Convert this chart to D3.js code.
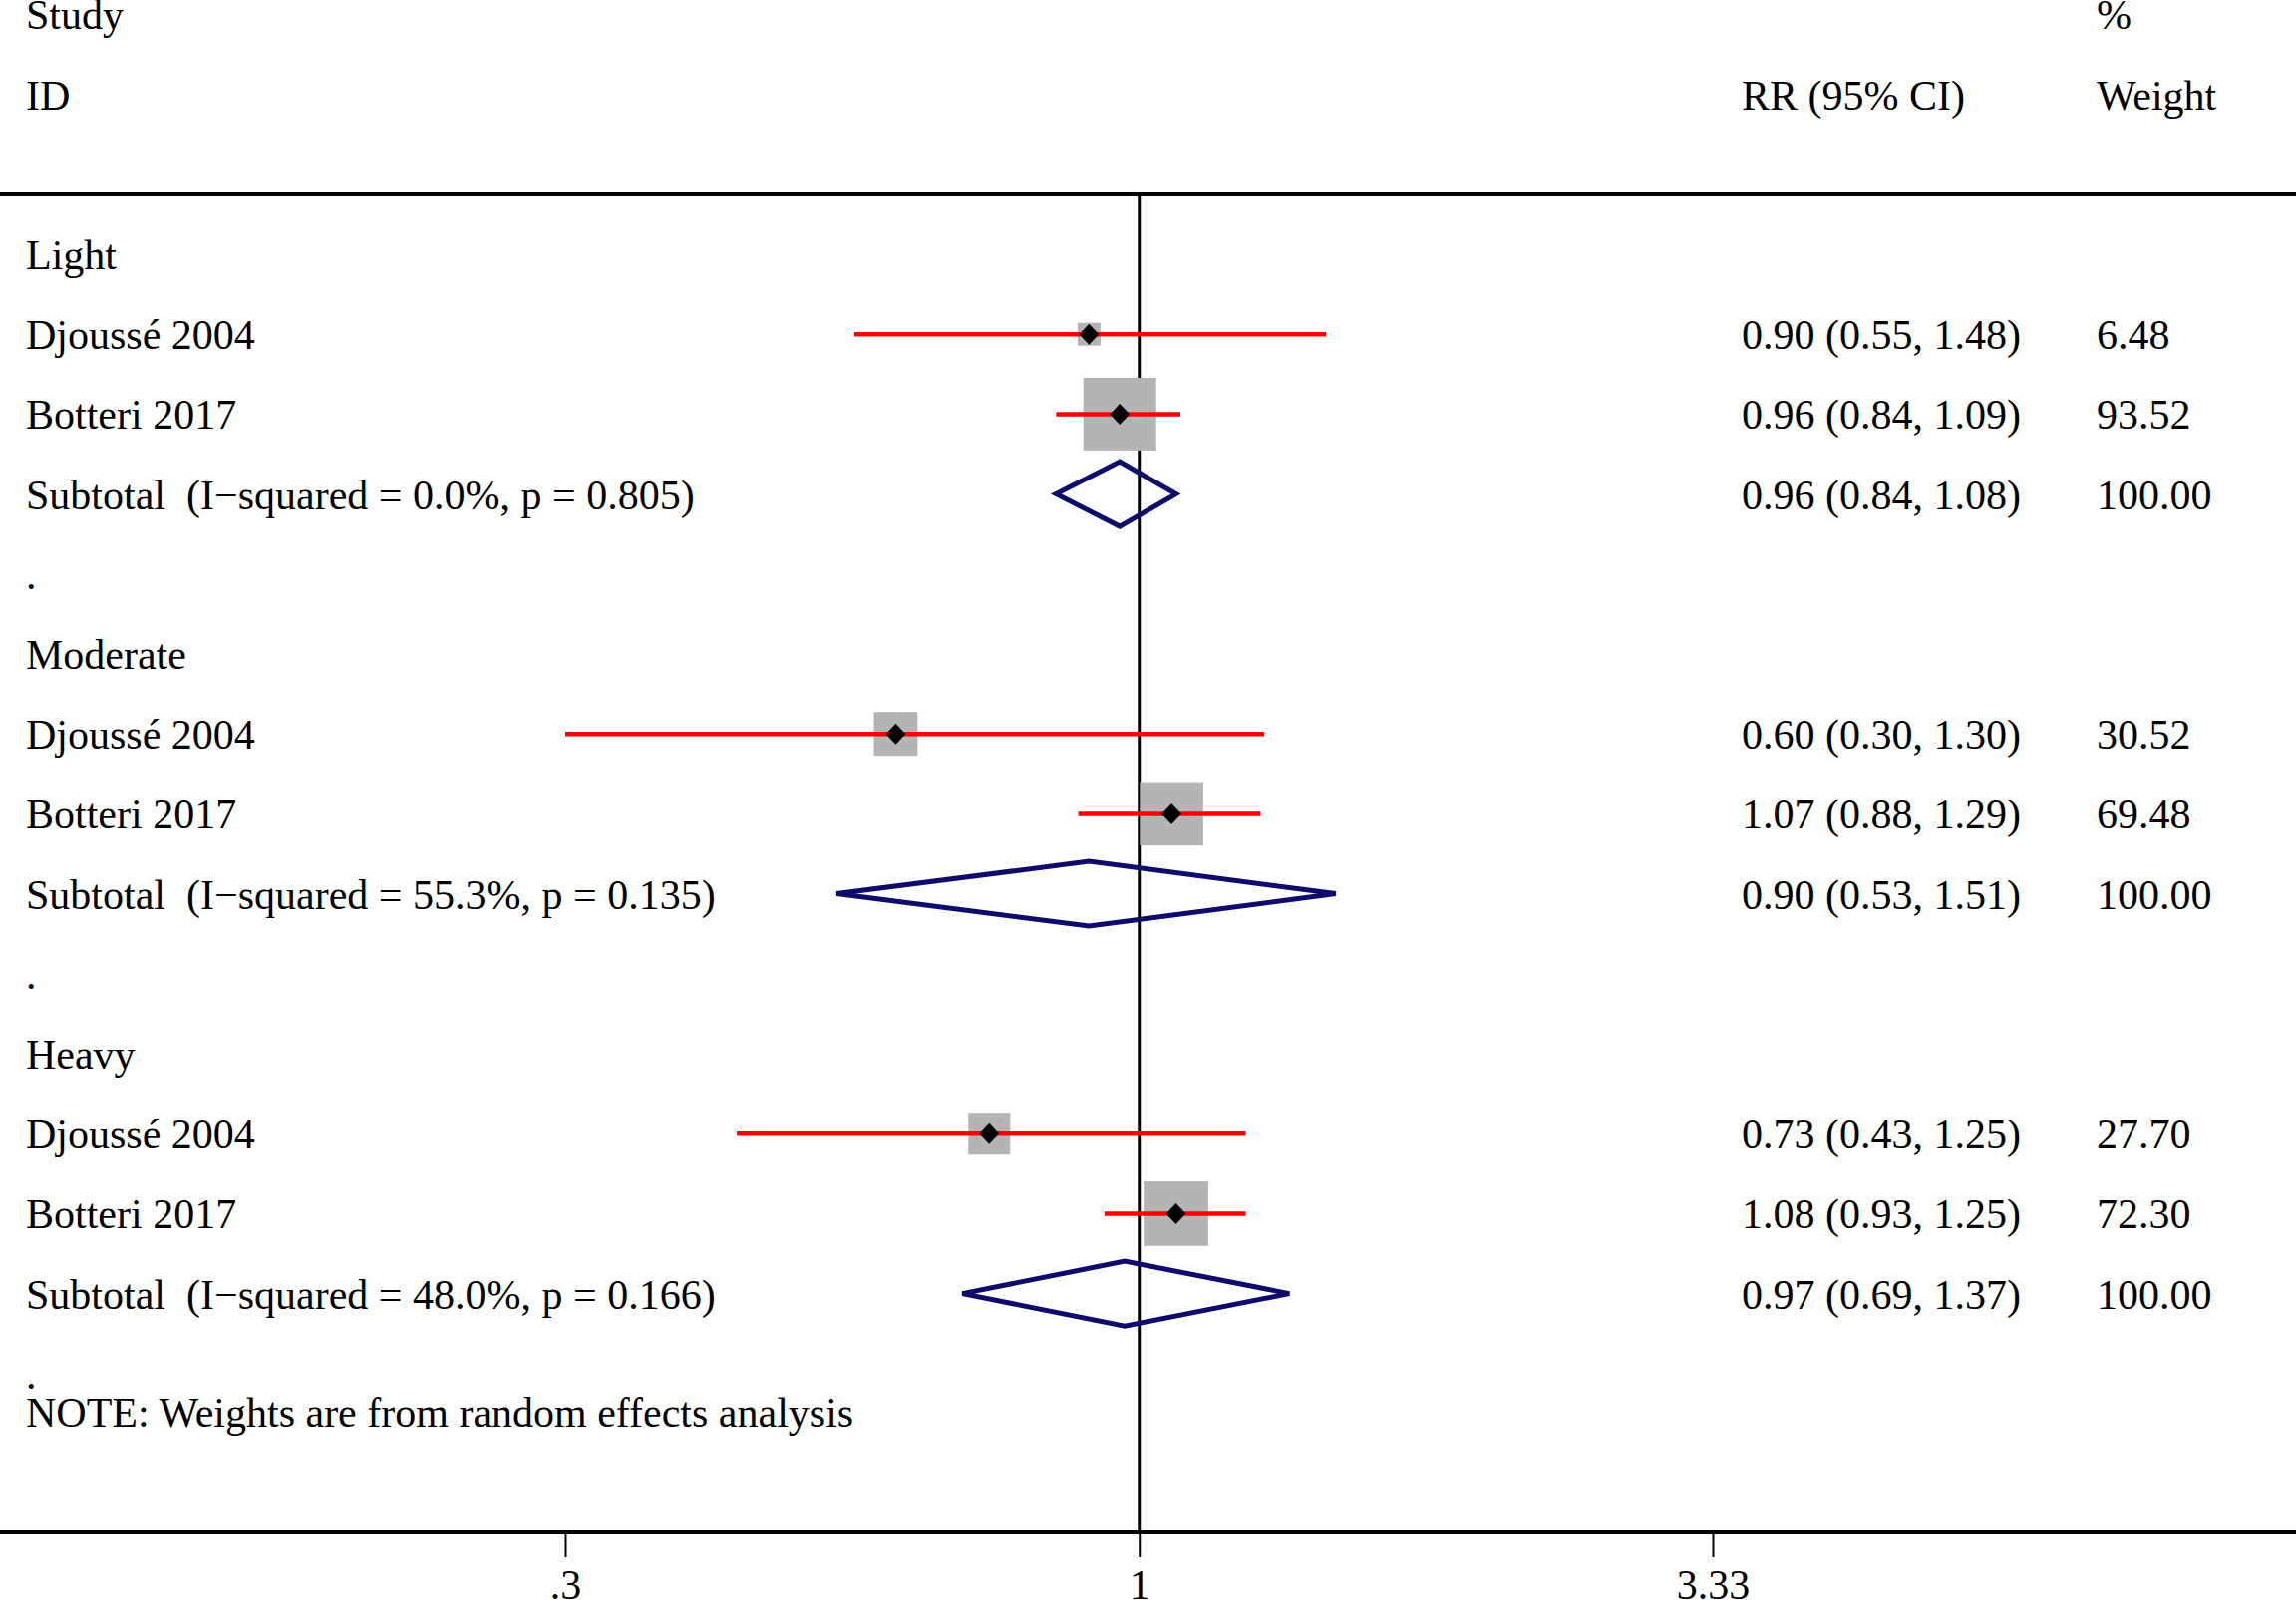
<!DOCTYPE html>
<meta charset="utf-8">
<script src="https://d3js.org/d3.v7.min.js"></script>
<style>
  body { margin: 0; background: #fff; }
  text { font-family: "Liberation Serif", "Times New Roman", serif; font-size: 42px; fill: #000; white-space: pre; }
</style>
<div id="my_dataviz"></div>
<script>
    // data
    const groupLabels = ["Light", "Moderate", "Heavy"];
    const studyLabels = ["Djoussé 2004", "Botteri 2017", "Djoussé 2004", "Botteri 2017", "Djoussé 2004", "Botteri 2017"];
    const studyGroup = [0, 0, 1, 1, 2, 2];
    const studyRR = [0.90, 0.96, 0.60, 1.07, 0.73, 1.08];
    const studyLo = [0.55, 0.84, 0.30, 0.88, 0.43, 0.93];
    const studyHi = [1.48, 1.09, 1.30, 1.29, 1.25, 1.25];
    const studyWeight = [6.48, 93.52, 30.52, 69.48, 27.70, 72.30];
    const subRR = [0.96, 0.90, 0.97];
    const subLo = [0.84, 0.53, 0.69];
    const subHi = [1.08, 1.51, 1.37];
    const subI2 = ["0.0%", "55.3%", "48.0%"];
    const subP = ["0.805", "0.135", "0.166"];
    const subWeight = [100, 100, 100];
    const xTicks = [0.3, 1, 3.33];
    const xTickLabels = [".3", "1", "3.33"];

    const width = 2303, height = 1605;

    const svg = d3.select("#my_dataviz")
        .append("svg")
        .attr("width", width)
        .attr("height", height);

    // x: log scale on RR, y: row index
    const x = d3.scaleLog().domain([0.3, 3.33]).range([567, 1718]);
    const y = d3.scaleLinear().domain([0, 1]).range([255, 335.2]);
    const box = d3.scaleSqrt().domain([0, 100]).range([5.1, 75.3]);

    const colLabel = 26, colCI = 1747, colW = 2103, base = 15;
    const fmt = d3.format(".2f");

    // build rows
    const studies = studyLabels.map((s, i) => {
        const g = studyGroup[i];
        const k = studyGroup.slice(0, i).filter(v => v === g).length;
        return { label: s, rr: studyRR[i], lo: studyLo[i], hi: studyHi[i], w: studyWeight[i], row: g * 5 + 1 + k };
    });
    const subs = groupLabels.map((g, i) => ({
        label: `Subtotal  (I\u2212squared = ${subI2[i]}, p = ${subP[i]})`,
        rr: subRR[i], lo: subLo[i], hi: subHi[i], w: subWeight[i], row: i * 5 + 3
    }));

    // header
    svg.append("text").attr("x", colLabel).attr("y", y(-3) + base).text("Study");
    svg.append("text").attr("x", colLabel).attr("y", y(-2) + base).text("ID");
    svg.append("text").attr("x", colCI).attr("y", y(-2) + base).text("RR (95% CI)");
    svg.append("text").attr("x", colW).attr("y", y(-3) + base).text("%");
    svg.append("text").attr("x", colW).attr("y", y(-2) + base).text("Weight");

    // top rule and null line
    svg.append("line").attr("x1", 0).attr("x2", width)
        .attr("y1", 195).attr("y2", 195)
        .attr("stroke", "#000").attr("stroke-width", 4);
    svg.append("line").attr("x1", x(1)).attr("x2", x(1))
        .attr("y1", 195).attr("y2", 1537)
        .attr("stroke", "#000").attr("stroke-width", 3);

    // group labels and dots
    svg.selectAll(".grp").data(groupLabels).join("text")
        .attr("x", colLabel).attr("y", (d, i) => y(i * 5) + base).text(d => d);
    svg.selectAll(".dot").data(groupLabels).join("text")
        .attr("x", colLabel).attr("y", (d, i) => y(i * 5 + 4) + base).text(".");

    // study boxes, CIs, point markers
    svg.selectAll(".box").data(studies).join("rect")
        .attr("x", d => x(d.rr) - box(d.w) / 2)
        .attr("y", d => y(d.row) - box(d.w) / 2)
        .attr("width", d => box(d.w)).attr("height", d => box(d.w))
        .attr("fill", "#b4b4b4");
    svg.selectAll(".ci").data(studies).join("line")
        .attr("x1", d => x(d.lo)).attr("x2", d => x(d.hi))
        .attr("y1", d => y(d.row)).attr("y2", d => y(d.row))
        .attr("stroke", "#ff0000").attr("stroke-width", 4.5);
    svg.selectAll(".pt").data(studies).join("path")
        .attr("d", d => {
            const cx = x(d.rr), cy = y(d.row), r = 10.5;
            return `M${cx},${cy - r}L${cx + r * 0.95},${cy}L${cx},${cy + r}L${cx - r * 0.95},${cy}Z`;
        })
        .attr("fill", "#000");

    // subtotal diamonds
    svg.selectAll(".dia").data(subs).join("path")
        .attr("d", d => {
            const cy = y(d.row), h = 32.5;
            return `M${x(d.lo)},${cy}L${x(d.rr)},${cy - h}L${x(d.hi)},${cy}L${x(d.rr)},${cy + h}Z`;
        })
        .attr("fill", "none").attr("stroke", "#0c0c6c").attr("stroke-width", 5)
        .attr("stroke-linejoin", "miter");

    // text columns
    const all = studies.concat(subs);
    svg.selectAll(".lab").data(all).join("text")
        .attr("x", colLabel).attr("y", d => y(d.row) + base).text(d => d.label);
    svg.selectAll(".est").data(all).join("text")
        .attr("x", colCI).attr("y", d => y(d.row) + base)
        .text(d => `${fmt(d.rr)} (${fmt(d.lo)}, ${fmt(d.hi)})`);
    svg.selectAll(".wt").data(all).join("text")
        .attr("x", colW).attr("y", d => y(d.row) + base).text(d => fmt(d.w));

    svg.append("text").attr("x", colLabel).attr("y", y(14.48) + base)
        .text("NOTE: Weights are from random effects analysis");

    // x axis
    const axis = svg.append("g").attr("transform", "translate(0,1537)")
        .call(d3.axisBottom(x).tickValues(xTicks).tickFormat((d, i) => xTickLabels[i]).tickSize(25).tickPadding(16));
    axis.select(".domain").remove();
    axis.selectAll(".tick line").attr("stroke-width", 2);
    axis.selectAll("text").style("font-size", "42px").style("font-family", "Liberation Serif").attr("dy", null).attr("y", 67);
    svg.append("line").attr("x1", 0).attr("x2", width)
        .attr("y1", 1537).attr("y2", 1537)
        .attr("stroke", "#000").attr("stroke-width", 4);
</script>
